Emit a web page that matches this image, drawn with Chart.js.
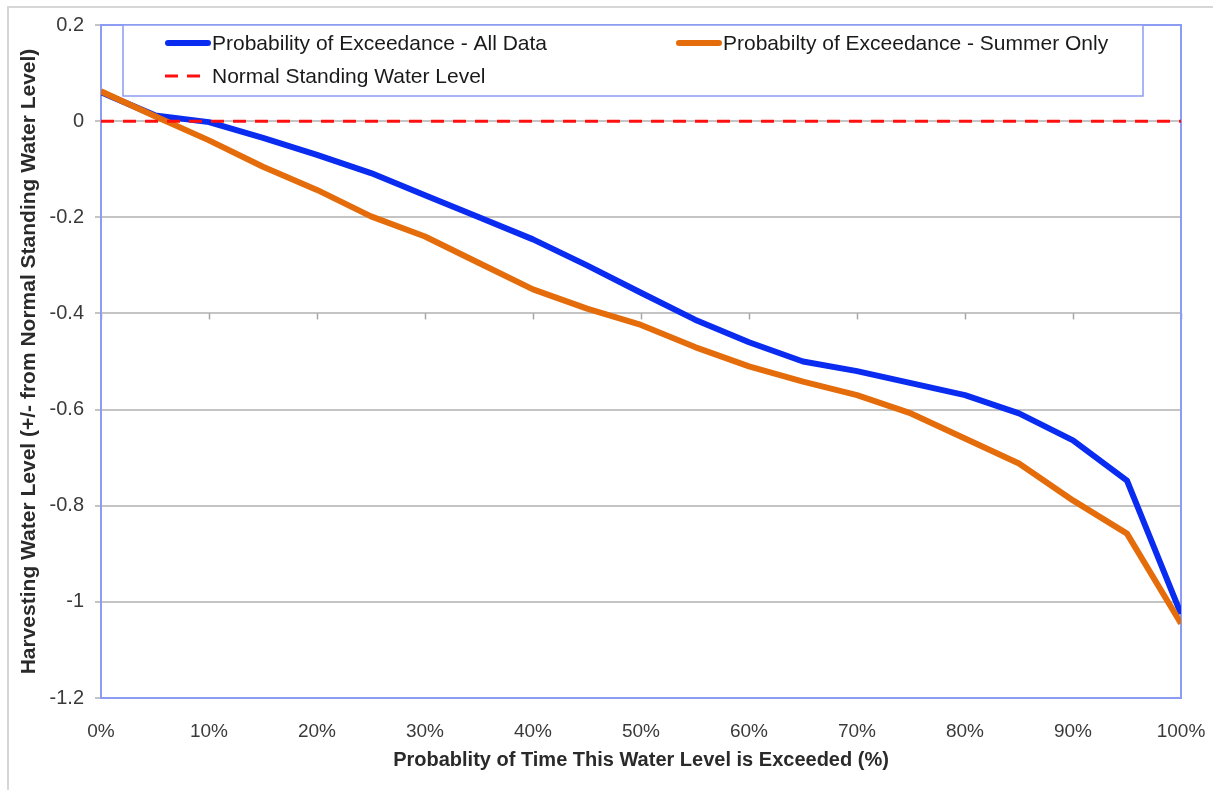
<!DOCTYPE html>
<html>
<head>
<meta charset="utf-8">
<script src="https://cdn.jsdelivr.net/npm/chart.js@4/dist/chart.umd.min.js"></script>
<style>
html,body{margin:0;padding:0;background:#fff;}
#wrap{width:1213px;height:790px;position:relative;}
</style>
</head>
<body>
<div id="wrap"><canvas id="c" width="1213" height="790"></canvas></div>
<script>
// ---- data ----
const exceedPct = [0,5,10,15,20,25,30,35,40,45,50,55,60,65,70,75,80,85,90,95,100];
const allData   = [0.06,0.012,-0.002,-0.035,-0.07,-0.108,-0.154,-0.2,-0.246,-0.3,-0.357,-0.413,-0.46,-0.5,-0.52,-0.545,-0.57,-0.608,-0.664,-0.748,-1.025];
const summerOnly= [0.062,0.01,-0.04,-0.095,-0.143,-0.198,-0.24,-0.295,-0.35,-0.39,-0.424,-0.47,-0.51,-0.542,-0.57,-0.608,-0.66,-0.712,-0.789,-0.858,-1.045];
const normalX = [0,100];
const normalLevel = [0,0];
const xTickValues = [0,10,20,30,40,50,60,70,80,90,100];
const yTickValues = [0.2,0,-0.2,-0.4,-0.6,-0.8,-1,-1.2];
const seriesLabels = ['Probability of Exceedance - All Data','Probabilty of Exceedance - Summer Only','Normal Standing Water Level'];
const xTitle = 'Probablity of Time This Water Level is Exceeded (%)';
const yTitle = 'Harvesting Water Level (+/- from Normal Standing Water Level)';

const toPts = (xs, ys) => xs.map((x,i)=>({x:x,y:ys[i]}));
const BLUE='#0a2cf0', ORANGE='#e46c0a', RED='#ff1010', FRAME='#8c9cf2';
const FONT='"Liberation Sans", Arial, sans-serif';

const framePlugin = {
  id:'frame',
  beforeDraw(chart){
    const ctx=chart.ctx;
    ctx.save();
    ctx.fillStyle='#fff';
    ctx.fillRect(0,0,chart.width,chart.height);
    ctx.strokeStyle='#d6d6d6';
    ctx.lineWidth=2;
    ctx.beginPath();
    ctx.moveTo(8,790); ctx.lineTo(8,7); ctx.lineTo(1213,7);
    ctx.stroke();
    ctx.restore();
  },
  beforeDatasetsDraw(chart){
    const {ctx, chartArea:a, scales} = chart;
    ctx.save();
    // small tick marks on the category axis line (crossing at -0.4)
    const yc = scales.y.getPixelForValue(-0.4);
    ctx.strokeStyle='#a6a6a6'; ctx.lineWidth=1.5;
    xTickValues.forEach(v=>{
      const px = Math.round(scales.x.getPixelForValue(v))+0.5;
      ctx.beginPath(); ctx.moveTo(px,yc); ctx.lineTo(px,yc+6); ctx.stroke();
    });
    // plot frame
    ctx.strokeStyle=FRAME; ctx.lineWidth=2;
    ctx.strokeRect(a.left, a.top, a.right-a.left, a.bottom-a.top);
    ctx.restore();
  },
  afterDraw(chart){
    const {ctx, chartArea:a} = chart;
    const ds = chart.data.datasets;
    ctx.save();
    const bx=a.left+22, by=a.top, bw=1143-bx, bh=71;
    ctx.fillStyle='#fff';
    ctx.fillRect(bx,by,bw,bh);
    ctx.strokeStyle=FRAME; ctx.lineWidth=1.5;
    ctx.strokeRect(bx,by,bw,bh);
    const items=[
      {ds:ds[0], x:165, y:by+18},
      {ds:ds[1], x:676, y:by+18},
      {ds:ds[2], x:165, y:by+51}
    ];
    ctx.font='21px '+FONT;
    ctx.textBaseline='middle';
    items.forEach(it=>{
      ctx.strokeStyle=it.ds.borderColor;
      ctx.lineWidth= it.ds.borderDash ? 3 : 6;
      ctx.lineCap = it.ds.borderDash ? 'butt' : 'round';
      ctx.setLineDash(it.ds.borderDash ? [13,9] : []);
      ctx.beginPath(); ctx.moveTo(it.x+ (it.ds.borderDash?0:3), it.y); ctx.lineTo(it.x+ (it.ds.borderDash?36:43), it.y); ctx.stroke();
      ctx.setLineDash([]);
      ctx.fillStyle='#1a1a1a';
      ctx.fillText(it.ds.label, it.x+47, it.y+1);
    });
    ctx.restore();
  }
};

new Chart(document.getElementById('c'), {
  type:'line',
  data:{
    datasets:[
      {label:seriesLabels[0], data:toPts(exceedPct, allData), borderColor:BLUE, borderWidth:6, pointRadius:0, tension:0, order:2, borderJoinStyle:'round'},
      {label:seriesLabels[1], data:toPts(exceedPct, summerOnly), borderColor:ORANGE, borderWidth:6, pointRadius:0, tension:0, order:1, borderJoinStyle:'round'},
      {label:seriesLabels[2], data:toPts(normalX, normalLevel), borderColor:RED, borderWidth:3, borderDash:[13,9], pointRadius:0, order:0}
    ]
  },
  options:{
    responsive:false,
    animation:false,
    devicePixelRatio:1,
    layout:{padding:{left:0, top:25, right:32, bottom:0}},
    plugins:{legend:{display:false}, tooltip:{enabled:false}},
    scales:{
      x:{
        type:'linear', min:0, max:100,
        afterFit(s){ s.height=92; s.paddingRight=0; s.paddingLeft=0; },
        afterBuildTicks(s){ s.ticks = xTickValues.map(v=>({value:v})); },
        grid:{display:false, drawTicks:false},
        border:{display:false},
        ticks:{padding:22, color:'#3a3a3a', font:{family:FONT, size:19}, callback:v=>v+'%', maxRotation:0, autoSkip:false},
        title:{display:true, text:xTitle, color:'#2a2a2a', font:{family:FONT, size:20, weight:'bold'}, padding:{top:18,bottom:18}}
      },
      y:{
        min:-1.2, max:0.2,
        afterFit(s){ s.width=101; s.paddingTop=0; s.paddingBottom=0; },
        afterBuildTicks(s){ s.ticks = yTickValues.map(v=>({value:v})); },
        grid:{color:'#c4c4c4', lineWidth:2, tickLength:6, drawTicks:true},
        border:{display:false},
        ticks:{padding:11, color:'#3a3a3a', font:{family:FONT, size:20}, callback:v=>String(Number(v.toFixed(1)))},
        title:{display:true, text:yTitle, color:'#2a2a2a', font:{family:FONT, size:21, weight:'bold'}, padding:{top:17,bottom:17}}
      }
    }
  },
  plugins:[framePlugin]
});
</script>
</body>
</html>
